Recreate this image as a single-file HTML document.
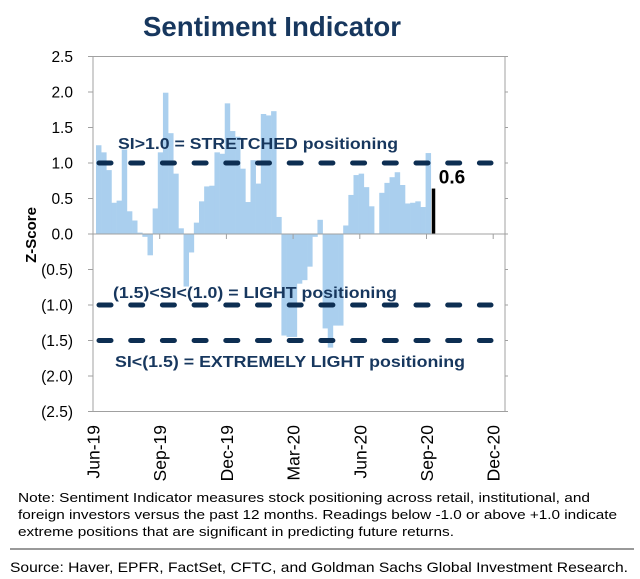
<!DOCTYPE html>
<html><head><meta charset="utf-8"><style>
html,body{margin:0;padding:0;background:#fff;}
svg{display:block;font-family:"Liberation Sans",Arial,sans-serif;}
</style></head><body>
<svg id="chart" width="640" height="579" viewBox="0 0 640 579" xmlns="http://www.w3.org/2000/svg">
<text x="272" y="36" text-anchor="middle" font-size="28" font-weight="bold" fill="#17375e" textLength="258" lengthAdjust="spacingAndGlyphs">Sentiment Indicator</text>
<g id="plot"></g>
<text transform="translate(36,235) rotate(-90)" text-anchor="middle" font-size="15" font-weight="bold" fill="#000">Z-Score</text>
<text font-size="13" fill="#000">
<tspan x="18" y="502" textLength="572" lengthAdjust="spacingAndGlyphs">Note: Sentiment Indicator measures stock positioning across retail, institutional, and</tspan>
<tspan x="18" y="519" textLength="599" lengthAdjust="spacingAndGlyphs">foreign investors versus the past 12 months. Readings below -1.0 or above +1.0 indicate</tspan>
<tspan x="18" y="536" textLength="436" lengthAdjust="spacingAndGlyphs">extreme positions that are significant in predicting future returns.</tspan>
</text>
<line x1="10" y1="549" x2="634" y2="549" stroke="#333" stroke-width="1"/>
<text x="10" y="572" font-size="14" fill="#000" textLength="618" lengthAdjust="spacingAndGlyphs">Source: Haver, EPFR, FactSet, CFTC, and Goldman Sachs Global Investment Research.</text>
</svg>
<script>
const values = [1.25,1.15,0.9,0.44,0.47,1.19,0.32,0.19,0.02,-0.04,-0.3,0.36,1.15,1.99,1.42,0.85,0.08,-0.74,-0.26,0.16,0.46,0.67,0.68,1.15,1.13,1.84,1.45,1.37,0.92,0.45,1.04,0.71,1.69,1.67,1.73,0.24,-1.43,-1.45,-1.45,-0.7,-0.65,-0.46,-0.04,0.2,-1.33,-1.6,-1.29,-1.29,0.12,0.55,0.83,0.85,0.66,0.39,0.01,0.58,0.72,0.8,0.87,0.69,0.43,0.44,0.46,0.38,1.14];
const latestValue = [0.64];
const latestLabel = ["0.6"];
const yTicks = [2.5,2.0,1.5,1.0,0.5,0.0,-0.5,-1.0,-1.5,-2.0,-2.5];
const yTickLabels = ["2.5","2.0","1.5","1.0","0.5","0.0","(0.5)","(1.0)","(1.5)","(2.0)","(2.5)"];
const xTickLabels = ["Jun-19","Sep-19","Dec-19","Mar-20","Jun-20","Sep-20","Dec-20"];
const thresholds = [1.0,-1.0,-1.5];
const thresholdLabels = ["SI>1.0 = STRETCHED positioning","(1.5)<SI<(1.0) = LIGHT positioning","SI<(1.5) = EXTREMELY LIGHT positioning"];

const NS="http://www.w3.org/2000/svg";
const g=document.getElementById('plot');
const L=93,R=505,T=56.5,B=411.5;
const y=v=>234-v*71;
const barX0=96, barW=5.15;
const bx=i=>barX0+i*barW;
const qx=i=>93+i*66.7;
function mk(tag,attrs){const e=document.createElementNS(NS,tag);for(const k in attrs)e.setAttribute(k,attrs[k]);g.appendChild(e);return e;}

let fr=mk('rect',{x:L,y:T,width:R-L,height:B-T,fill:'none',stroke:'#a0a0a0','stroke-width':1});



values.forEach((v,i)=>{
  const r=mk('rect',{x:bx(i),y:Math.min(y(v),y(0)),width:barW+0.3,height:Math.abs(y(v)-y(0)),fill:'#aacfee'});
  
  
});
const lb=mk('rect',{x:bx(values.length)+1,y:y(latestValue[0]),width:3.5,height:y(0)-y(latestValue[0]),fill:'#000'});


const lt=mk('text',{x:bx(values.length)+8,y:y(latestValue[0])-5,'font-size':19,'font-weight':'bold',fill:'#000'});
lt.textContent=latestLabel[0];



const za=mk('line',{x1:L,y1:y(0),x2:R,y2:y(0),stroke:'#a0a0a0','stroke-width':1});



yTicks.forEach((t,i)=>{
  const tk=mk('line',{x1:L-5,y1:y(t),x2:L,y2:y(t),stroke:'#a0a0a0'});
  
  
  const tr=mk('line',{x1:R,y1:y(t),x2:R+3,y2:y(t),stroke:'#a0a0a0'});
  
  
  const tx=mk('text',{x:73,y:y(t)+5.5,'text-anchor':'end','font-size':15.5,fill:'#000'});
  tx.textContent=yTickLabels[i];
  
  
});

xTickLabels.forEach((lab,i)=>{
  const x=qx(i);
  const tk=mk('line',{x1:x,y1:y(0),x2:x,y2:y(0)+5,stroke:'#a0a0a0'});
  
  
  const tx=mk('text',{transform:`translate(${x+6.5},425) rotate(-90)`,'text-anchor':'end','font-size':17.5,fill:'#000'});
  tx.textContent=lab;
  
  
});

const labelPos=[[118,149,280],[113,298,284],[115,367,350]];
thresholds.forEach((t,i)=>{
  const ln=mk('line',{x1:99,y1:y(t),x2:491,y2:y(t),stroke:'#0d2e52','stroke-width':5,'stroke-linecap':'round','stroke-dasharray':'12 19.7'});
  
  
  const tx=mk('text',{x:labelPos[i][0],y:labelPos[i][1],'font-size':16,'font-weight':'bold',fill:'#17375e',textLength:labelPos[i][2],lengthAdjust:'spacingAndGlyphs'});
  tx.textContent=thresholdLabels[i];
  
  
});
</script>
</body></html>
